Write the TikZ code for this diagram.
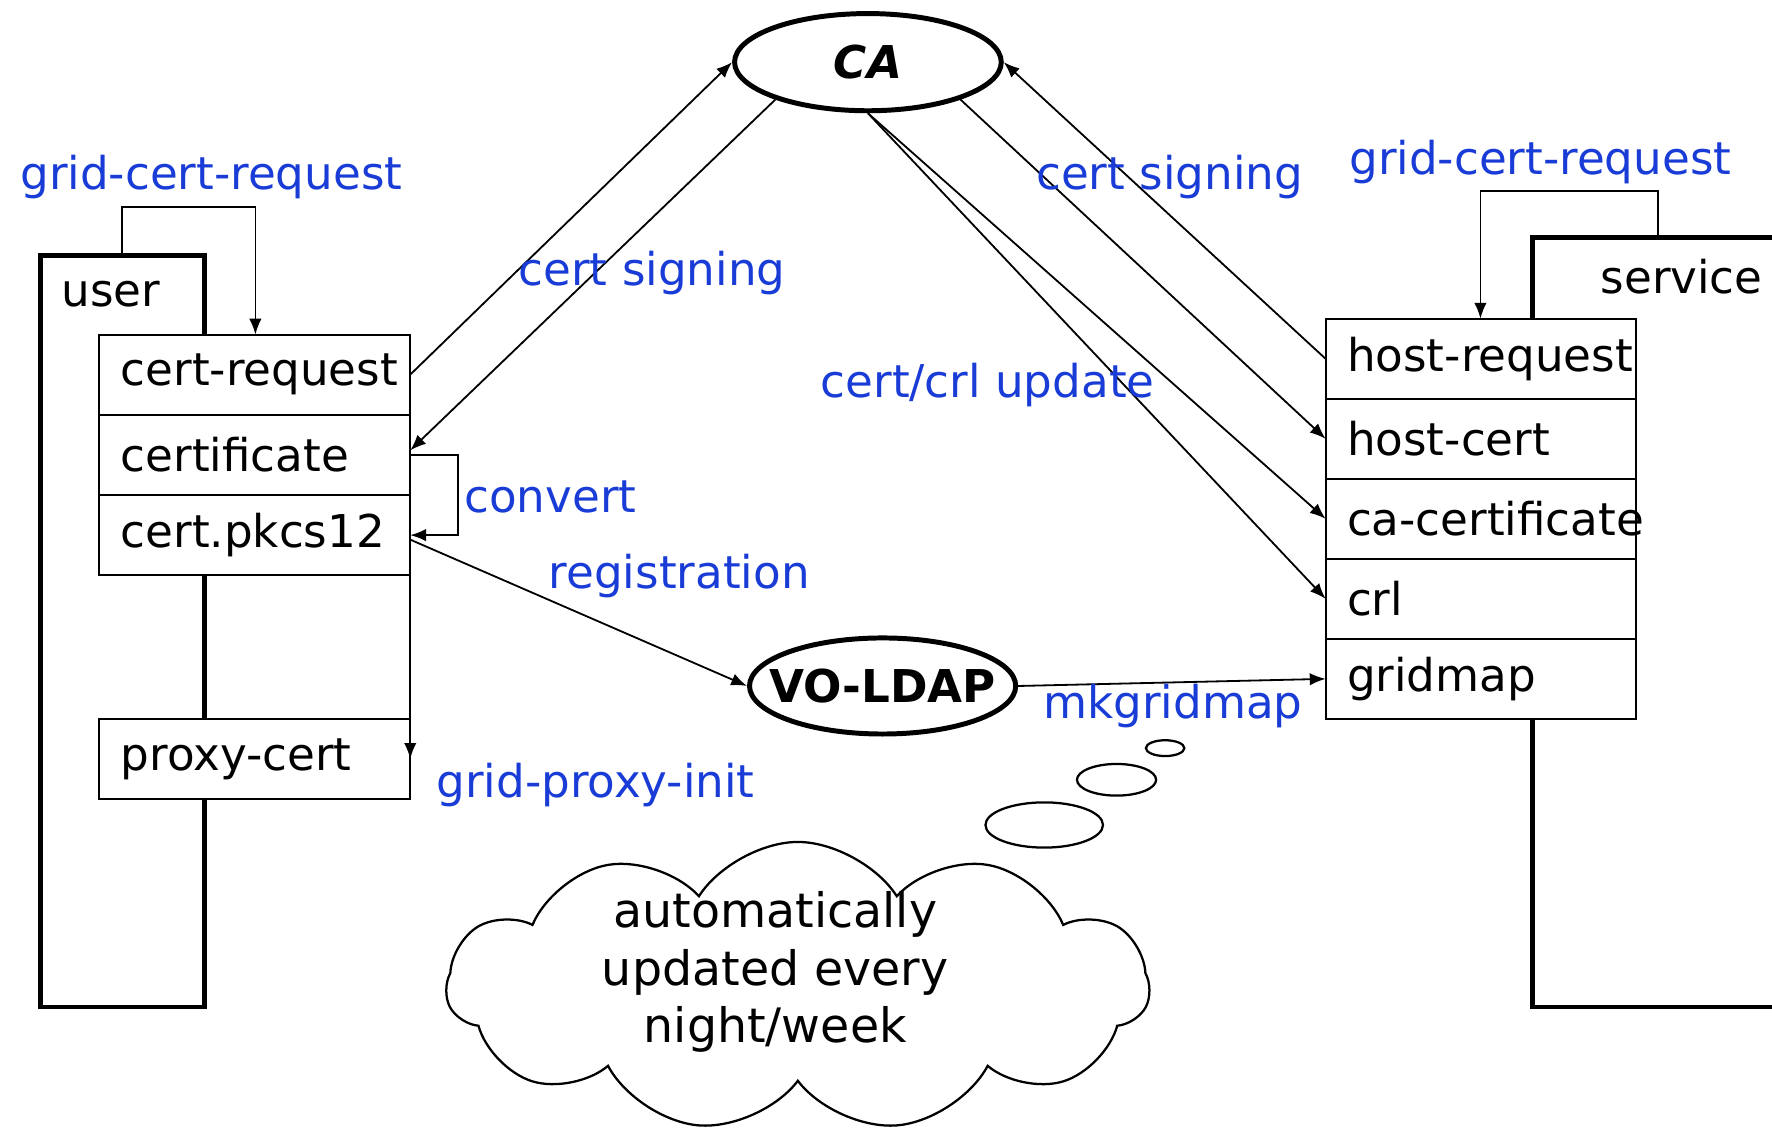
\documentclass[tikz,border=0pt]{standalone}
\usepackage{fontspec}
\setmainfont{DejaVu Sans}
\usetikzlibrary{shapes.geometric,shapes.symbols,arrows.meta}
\definecolor{cmdblue}{RGB}{25,60,215}
\tikzset{
	txt/.style={font=\fontsize{20}{24}\selectfont, inner sep=0pt},
	cmd/.style={txt, text=cmdblue},
	entry/.style={txt, draw, fill=white, line width=0.9pt, outer sep=0pt, anchor=north west,
		minimum height=35.5pt, text width=118.5pt, inner xsep=9.5pt, align=left},
	machine/.style={draw, line width=2pt, anchor=north west, inner sep=0pt, outer sep=0pt},
	server/.style={ellipse, draw, line width=2.2pt, inner sep=0pt, font=\fontsize{20}{24}\selectfont\bfseries},
	puff/.style={ellipse, draw, fill=white, line width=1pt, inner sep=0pt},
	arr/.style={-{Latex[length=7pt,width=5.5pt]}, line width=0.8pt}
}
\begin{document}
\begin{tikzpicture}[x=0.5pt, y=-0.5pt]
	\useasboundingbox (0,0) rectangle (1568,1002);
	\clip (0,0) rectangle (1568,1002);

	\node[machine, minimum width=72.5pt, minimum height=332.5pt] (user) at (36,226) {};
	\node[txt] (ul) at (98,260) {user};
	\node[machine, minimum width=125pt, minimum height=340.5pt] (service) at (1356,210) {};
	\node[txt] (sl) at (1488,245) {service};

	\foreach \t [count=\i] in {cert-request, certificate, cert.pkcs12}
		\node[entry] (u\i) at (88,{296+71*(\i-1)}) {\mbox{\t}};
	\node[entry] (px) at (88,636) {proxy-cert};
	\foreach \t [count=\i] in {host-request, host-cert, ca-certificate, crl, gridmap}
		\node[entry] (s\i) at (1173,{282+70.8*(\i-1)}) {\mbox{\t}};

	\node[server, minimum width=118pt, minimum height=43pt] (ca) at (768,55) {\itshape CA};
	\node[server, minimum width=117pt, minimum height=42.5pt, inner xsep=-8.5pt] (vo) at (781,607) {VO-LDAP};

	\draw[arr] ([xshift=36pt]user.north west) -- ++(0,-43) -| ([xshift=69pt]u1.north west);
	\draw[arr] (u1.east) -- (ca.west);
	\draw[arr] (ca.202) -- ([yshift=2pt]u2.east);
	\draw[arr] (u2.east) -- ++(42,0) |- (u3.east);
	\draw[arr] ([yshift=-2pt]u3.east) -- (vo.west);
	\draw[arr] (u3.south east) -- (px.east);
	\draw[arr] ([xshift=55.5pt]service.north west) -- ++(0,-41) -| ([xshift=68.5pt]s1.north west);
	\draw[arr] (s1.west) -- (ca.east);
	\draw[arr] (ca.-22) -- (s2.west);
	\draw[arr] (ca.south) -- (s3.west);
	\draw[arr] (ca.south) -- (s4.west);
	\draw[arr] (vo.east) -- (s5.west);

	\node[cmd] (l1) at (187,157) {grid-cert-request};
	\node[cmd] (l2) at (577,242) {cert signing};
	\node[cmd] (l3) at (487,440) {convert};
	\node[cmd] (l4) at (601,510) {registration};
	\node[cmd] (l5) at (527,695) {grid-proxy-init};
	\node[cmd] (l6) at (1035,157) {cert signing};
	\node[cmd] (l7) at (1363,143) {grid-cert-request};
	\node[cmd] (l8) at (874,341) {cert/crl update};
	\node[cmd] (l9) at (1038,625) {mkgridmap};

	% thought cloud
	\node[cloud, draw, line width=1pt, cloud puffs=11, cloud puff arc=115, aspect=2.4,
		minimum width=311pt, minimum height=128pt, inner sep=0pt] (cl) at (706,873) {};
	\node[puff, minimum width=52pt, minimum height=20pt] (b1) at (924,730) {};
	\node[puff, minimum width=35pt, minimum height=14pt] (b2) at (988,690) {};
	\node[puff, minimum width=17pt, minimum height=7pt] (b3) at (1031,662) {};
	\node[txt, font=\fontsize{21}{25.5}\selectfont, align=center] (note) at (686,860) {automatically\\updated every\\night/week};
\end{tikzpicture}
\end{document}
